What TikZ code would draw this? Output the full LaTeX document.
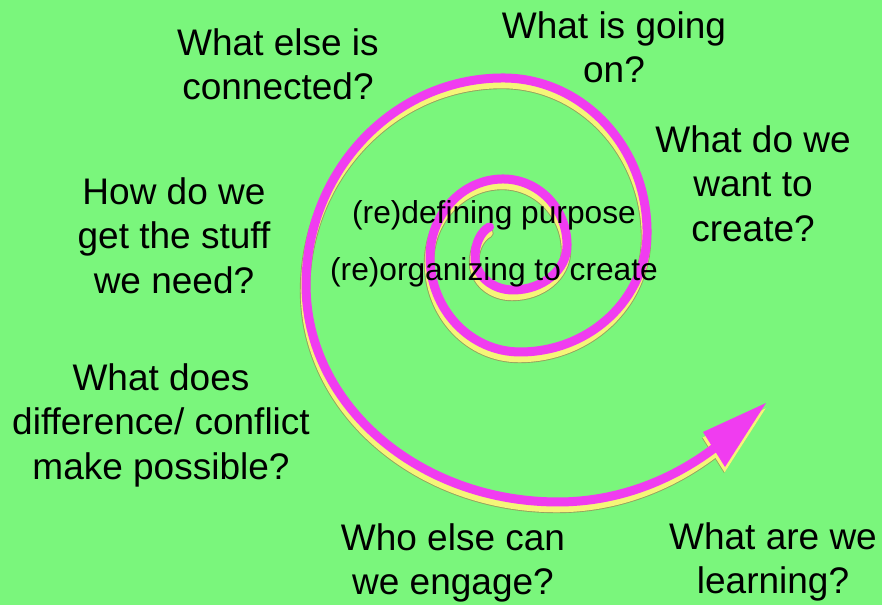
\documentclass[tikz,border=0pt]{standalone}
\usepackage{fontspec}
\setmainfont{Liberation Sans}
\definecolor{bggreen}{RGB}{122,246,124}
\definecolor{spmag}{RGB}{240,60,240}
\definecolor{spyel}{RGB}{245,245,120}
\definecolor{spedge}{RGB}{150,160,95}
\def\spiralcurve{(489.5,226.9)
  arc[start angle=-110,end angle=-180,x radius=22,y radius=32]
  arc[start angle=180,end angle=90,x radius=38,y radius=33]
  arc[start angle=90,end angle=0,x radius=54,y radius=45]
  arc[start angle=0,end angle=-90,x radius=64,y radius=66]
  arc[start angle=-90,end angle=-180,x radius=73,y radius=78]
  arc[start angle=180,end angle=90,x radius=90,y radius=95]
  arc[start angle=90,end angle=0,x radius=127,y radius=120]
  arc[start angle=0,end angle=-90,x radius=144,y radius=154]
  arc[start angle=-90,end angle=-180,x radius=197,y radius=207]
  arc[start angle=180,end angle=90,x radius=252,y radius=217]
  arc[start angle=90,end angle=56,x radius=290,y radius=342]}
\def\spiralhead{(766,403) -- (703,432) -- (725,467) -- cycle}
\begin{document}
\begin{tikzpicture}[x=1pt,y=-1pt,
  question/.style={font=\fontsize{37}{44.5}\selectfont, align=center, anchor=base, inner sep=0pt},
  centretext/.style={font=\fontsize{31.7}{38}\selectfont, anchor=base, inner sep=0pt},
  shadowedge/.style={draw=spedge, line width=10.4pt, line cap=round},
  shadowfill/.style={draw=spyel, line width=8.6pt, line cap=round},
  mainline/.style={draw=spmag, line width=9pt, line cap=round}]
\fill[bggreen] (0,0) rectangle (882,605);
\useasboundingbox (0,0) rectangle (882,605);
% shadow of the spiral
\begin{scope}[shift={(-1,6)}]
  \path[shadowedge] \spiralcurve;
  \fill[spedge] \spiralhead;
  \path[shadowfill] \spiralcurve;
  \fill[spyel, shift={(0.6,-0.6)}] \spiralhead;
\end{scope}
% spiral itself
\path[mainline] \spiralcurve;
\fill[spmag] \spiralhead;
% texts (anchor base = baseline of the last line)
\node[question] (connected) at (278,99.5) {What else is\\connected?};
\node[question] (goingon) at (614,82.5) {What is going\\on?};
\node[question] (create) at (753,241) {What do we\\want to\\create?};
\node[question] (stuff) at (174,293) {How do we\\get the stuff\\we need?};
\node[question] (conflict) at (161,479) {What does\\difference/ conflict\\make possible?};
\node[question] (engage) at (453,594.5) {Who else can\\we engage?};
\node[question] (learning) at (773,593.5) {What are we\\learning?};
\node[centretext] (purpose) at (494,223) {(re)defining purpose};
\node[centretext] (organizing) at (494,280) {(re)organizing to create};
\end{tikzpicture}
\end{document}
